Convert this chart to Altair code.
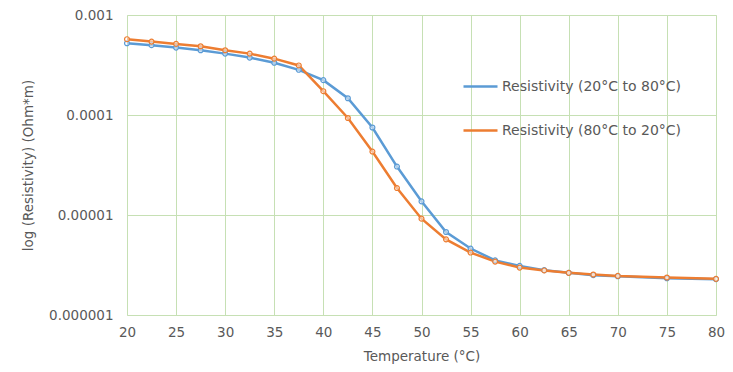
import altair as alt
import pandas as pd

temps = [20, 22.5, 25, 27.5, 30, 32.5, 35, 37.5, 40, 42.5, 45, 47.5, 50,
         52.5, 55, 57.5, 60, 62.5, 65, 67.5, 70, 75, 80]
heating = [5.22e-4, 4.99e-4, 4.72e-4, 4.44e-4, 4.11e-4, 3.75e-4, 3.33e-4, 2.83e-4,
           2.23e-4, 1.47e-4, 7.5e-5, 3.05e-5, 1.37e-5, 6.76e-6, 4.62e-6, 3.52e-6,
           3.10e-6, 2.81e-6, 2.64e-6, 2.50e-6, 2.44e-6, 2.33e-6, 2.28e-6]
cooling = [5.73e-4, 5.42e-4, 5.14e-4, 4.87e-4, 4.44e-4, 4.11e-4, 3.66e-4, 3.13e-4,
           1.73e-4, 9.33e-5, 4.31e-5, 1.86e-5, 9.19e-6, 5.71e-6, 4.21e-6, 3.42e-6,
           2.98e-6, 2.79e-6, 2.64e-6, 2.54e-6, 2.46e-6, 2.37e-6, 2.30e-6]
series_names = ["Resistivity (20°C to 80°C)", "Resistivity (80°C to 20°C)"]
series_colors = ["#5B9BD5", "#ED7D31"]
x_ticks = [20, 25, 30, 35, 40, 45, 50, 55, 60, 65, 70, 75, 80]
y_ticks = [1e-6, 1e-5, 1e-4, 1e-3]

rows = []
for t, v in zip(temps, heating):
    rows.append({"T": t, "R": v, "s": series_names[0]})
for t, v in zip(temps, cooling):
    rows.append({"T": t, "R": v, "s": series_names[1]})
df = pd.DataFrame(rows)

FONT = "DejaVu Sans"
FS = 13.5
GRID = "#C6E0B4"
TXT = "#595959"

chart = alt.Chart(df).mark_line(
    strokeWidth=2.5,
    point=alt.OverlayMarkDef(filled=False, size=24, strokeWidth=1.2, fill="white", fillOpacity=0.5),
).encode(
    x=alt.X("T:Q", scale=alt.Scale(domain=[20, 80], nice=False, zero=False),
            axis=alt.Axis(values=x_ticks, title="Temperature (°C)", format="d",
                          grid=True, gridColor=GRID, gridWidth=1, domain=False, ticks=False,
                          labelFlush=False, labelPadding=10, titlePadding=11,
                          labelFontSize=FS, titleFontSize=FS, labelColor=TXT, titleColor=TXT,
                          labelFont=FONT, titleFont=FONT, titleFontWeight="normal")),
    y=alt.Y("R:Q", scale=alt.Scale(type="log", domain=[1e-6, 1e-3], nice=False),
            axis=alt.Axis(values=y_ticks, title="log (Resistivity) (Ohm*m)", format=".6~f",
                          grid=True, gridColor=GRID, gridWidth=1, domain=False, ticks=False,
                          labelFlush=False, labelPadding=14, titlePadding=13,
                          labelFontSize=FS, titleFontSize=FS, labelColor=TXT, titleColor=TXT,
                          labelFont=FONT, titleFont=FONT, titleFontWeight="normal")),
    color=alt.Color("s:N", scale=alt.Scale(domain=series_names, range=series_colors),
                    legend=alt.Legend(title=None, orient="none", legendX=335, legendY=53,
                                      symbolType="stroke", symbolSize=1156,
                                      symbolStrokeWidth=2.5, labelOffset=3,
                                      rowPadding=18, labelFontSize=14, labelFont=FONT,
                                      labelColor=TXT, labelLimit=300)),
    order=alt.Order("T:Q"),
).properties(
    width=589, height=300,
    autosize=alt.AutoSizeParams(type="none"),
    padding={"left": 119, "top": 7, "right": 9, "bottom": 49},
).configure_view(stroke=None).configure(background="white")

chart.save("out.html", embed_options={"renderer": "svg", "actions": False})
